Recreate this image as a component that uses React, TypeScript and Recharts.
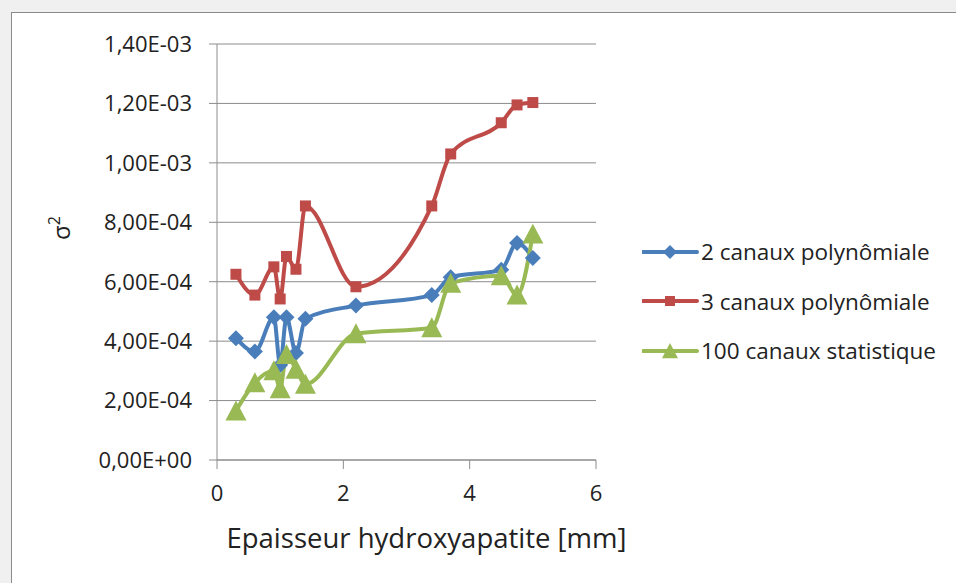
import { LineChart, Line, XAxis, YAxis, CartesianGrid, Legend } from 'recharts';

// épaisseur (mm)
const thickness = [0.3, 0.6, 0.9, 1.0, 1.1, 1.25, 1.4, 2.2, 3.4, 3.7, 4.5, 4.75, 5.0];
// sigma² par méthode
const twoChannels = [4.1e-4, 3.65e-4, 4.8e-4, 3.2e-4, 4.8e-4, 3.6e-4, 4.75e-4, 5.2e-4, 5.55e-4, 6.15e-4, 6.4e-4, 7.3e-4, 6.8e-4];
const threeChannels = [6.25e-4, 5.55e-4, 6.5e-4, 5.42e-4, 6.85e-4, 6.42e-4, 8.55e-4, 5.83e-4, 8.55e-4, 1.03e-3, 1.135e-3, 1.195e-3, 1.203e-3];
const hundredChannels = [1.65e-4, 2.6e-4, 3.0e-4, 2.4e-4, 3.55e-4, 3.05e-4, 2.55e-4, 4.25e-4, 4.45e-4, 5.95e-4, 6.2e-4, 5.55e-4, 7.6e-4];

const xTicks = [0, 2, 4, 6];
const yTicks = [0, 2e-4, 4e-4, 6e-4, 8e-4, 1e-3, 1.2e-3, 1.4e-3];

const seriesNames = ['2 canaux polynômiale', '3 canaux polynômiale', '100 canaux statistique'];

const BLUE = '#4a7ebb';
const RED = '#be4b48';
const GREEN = '#98b954';
const FONT = '"Open Sans", sans-serif';

const data = thickness.map((x, i) => ({
  x,
  two: twoChannels[i],
  three: threeChannels[i],
  hundred: hundredChannels[i],
}));

// 1.4e-3 -> "1,40E-03"
const sciFormat = (v: number) => {
  const [m, e] = v.toExponential(2).split('e');
  const sign = e[0];
  const digits = e.slice(1).padStart(2, '0');
  return m.replace('.', ',') + 'E' + sign + digits;
};

const Diamond = ({ cx, cy, color, size = 8 }: any) => {
  if (cx == null || cy == null) return null;
  return <polygon points={`${cx},${cy - size} ${cx + size},${cy} ${cx},${cy + size} ${cx - size},${cy}`} fill={color} />;
};

const Square = ({ cx, cy, color, size = 5.5 }: any) => {
  if (cx == null || cy == null) return null;
  return <rect x={cx - size} y={cy - size} width={size * 2} height={size * 2} fill={color} />;
};

const Triangle = ({ cx, cy, color, size = 10.5 }: any) => {
  if (cx == null || cy == null) return null;
  return <polygon points={`${cx},${cy - size} ${cx + size},${cy + size * 0.9} ${cx - size},${cy + size * 0.9}`} fill={color} />;
};

const legendItems = [
  { name: seriesNames[0], color: BLUE, Shape: Diamond },
  { name: seriesNames[1], color: RED, Shape: Square },
  { name: seriesNames[2], color: GREEN, Shape: Triangle },
];

const renderLegend = () => (
  <div style={{ fontFamily: FONT, fontSize: 22.5, color: '#222' }}>
    {legendItems.map(({ name, color, Shape }) => (
      <div key={name} style={{ display: 'flex', alignItems: 'center', height: 49.5 }}>
        <svg width={58} height={24}>
          <line x1={1} y1={12} x2={55} y2={12} stroke={color} strokeWidth={4} strokeLinecap="round" />
          <Shape cx={28} cy={12} color={color} size={Shape === Triangle ? 8 : Shape === Diamond ? 7 : 5} />
        </svg>
        <span style={{ marginLeft: 1, whiteSpace: 'nowrap' }}>{name}</span>
      </div>
    ))}
  </div>
);

const SigmaLabel = () => (
  <text x={0} y={0} transform="translate(70, 240) rotate(-90)" fontFamily={FONT} fontSize={24} fill="#222">
    σ<tspan dy={-10} fontSize={16}>2</tspan>
  </text>
);

const XTitle = ({ viewBox }: any) => {
  const { x, y, width } = viewBox;
  return (
    <text x={x + width / 2 + 20} y={y + 88} textAnchor="middle" fontFamily={FONT} fontSize={27.5} fill="#222">
      Epaisseur hydroxyapatite [mm]
    </text>
  );
};

const App = () => {
  return (
    <div style={{ position: 'absolute', left: 0, top: 0, width: 956, height: 583, background: '#f0f0f0', overflow: 'hidden' }}>
      <div style={{ position: 'absolute', left: 11, top: 12, width: 1000, height: 700, background: '#fff', border: '1px solid #8a8a8a' }} />
      <div style={{ position: 'absolute', left: 0, top: 0 }}>
        <LineChart width={956} height={583} data={data} margin={{ top: 44, right: 360, bottom: 23, left: 0 }}>
          <CartesianGrid vertical={false} stroke="#8c8c8c" strokeWidth={1} />
          <XAxis
            dataKey="x"
            type="number"
            domain={[0, 6]}
            ticks={xTicks}
            height={100}
            stroke="#8c8c8c"
            tickSize={9}
            tickMargin={16}
            tick={{ fill: '#222', fontSize: 22, fontFamily: FONT }}
            label={<XTitle />}
          />
          <YAxis
            type="number"
            domain={[0, 1.4e-3]}
            ticks={yTicks}
            width={217}
            stroke="#8c8c8c"
            tickSize={8}
            tickMargin={17}
            tickFormatter={sciFormat}
            tick={{ fill: '#222', fontSize: 22, fontFamily: FONT }}
            label={<SigmaLabel />}
          />
          <Legend
            layout="vertical"
            align="center"
            verticalAlign="middle"
            content={renderLegend}
            wrapperStyle={{ left: 642, top: 227, width: 314 }}
          />
          <Line
            dataKey="two"
            name={seriesNames[0]}
            type="monotone"
            stroke={BLUE}
            strokeWidth={4}
            isAnimationActive={false}
            dot={(p: any) => <Diamond key={`d${p.index}`} cx={p.cx} cy={p.cy} color={BLUE} />}
          />
          <Line
            dataKey="three"
            name={seriesNames[1]}
            type="monotone"
            stroke={RED}
            strokeWidth={4}
            isAnimationActive={false}
            dot={(p: any) => <Square key={`s${p.index}`} cx={p.cx} cy={p.cy} color={RED} />}
          />
          <Line
            dataKey="hundred"
            name={seriesNames[2]}
            type="monotone"
            stroke={GREEN}
            strokeWidth={4}
            isAnimationActive={false}
            dot={(p: any) => <Triangle key={`t${p.index}`} cx={p.cx} cy={p.cy} color={GREEN} />}
          />
        </LineChart>
      </div>
    </div>
  );
};

export default App;
